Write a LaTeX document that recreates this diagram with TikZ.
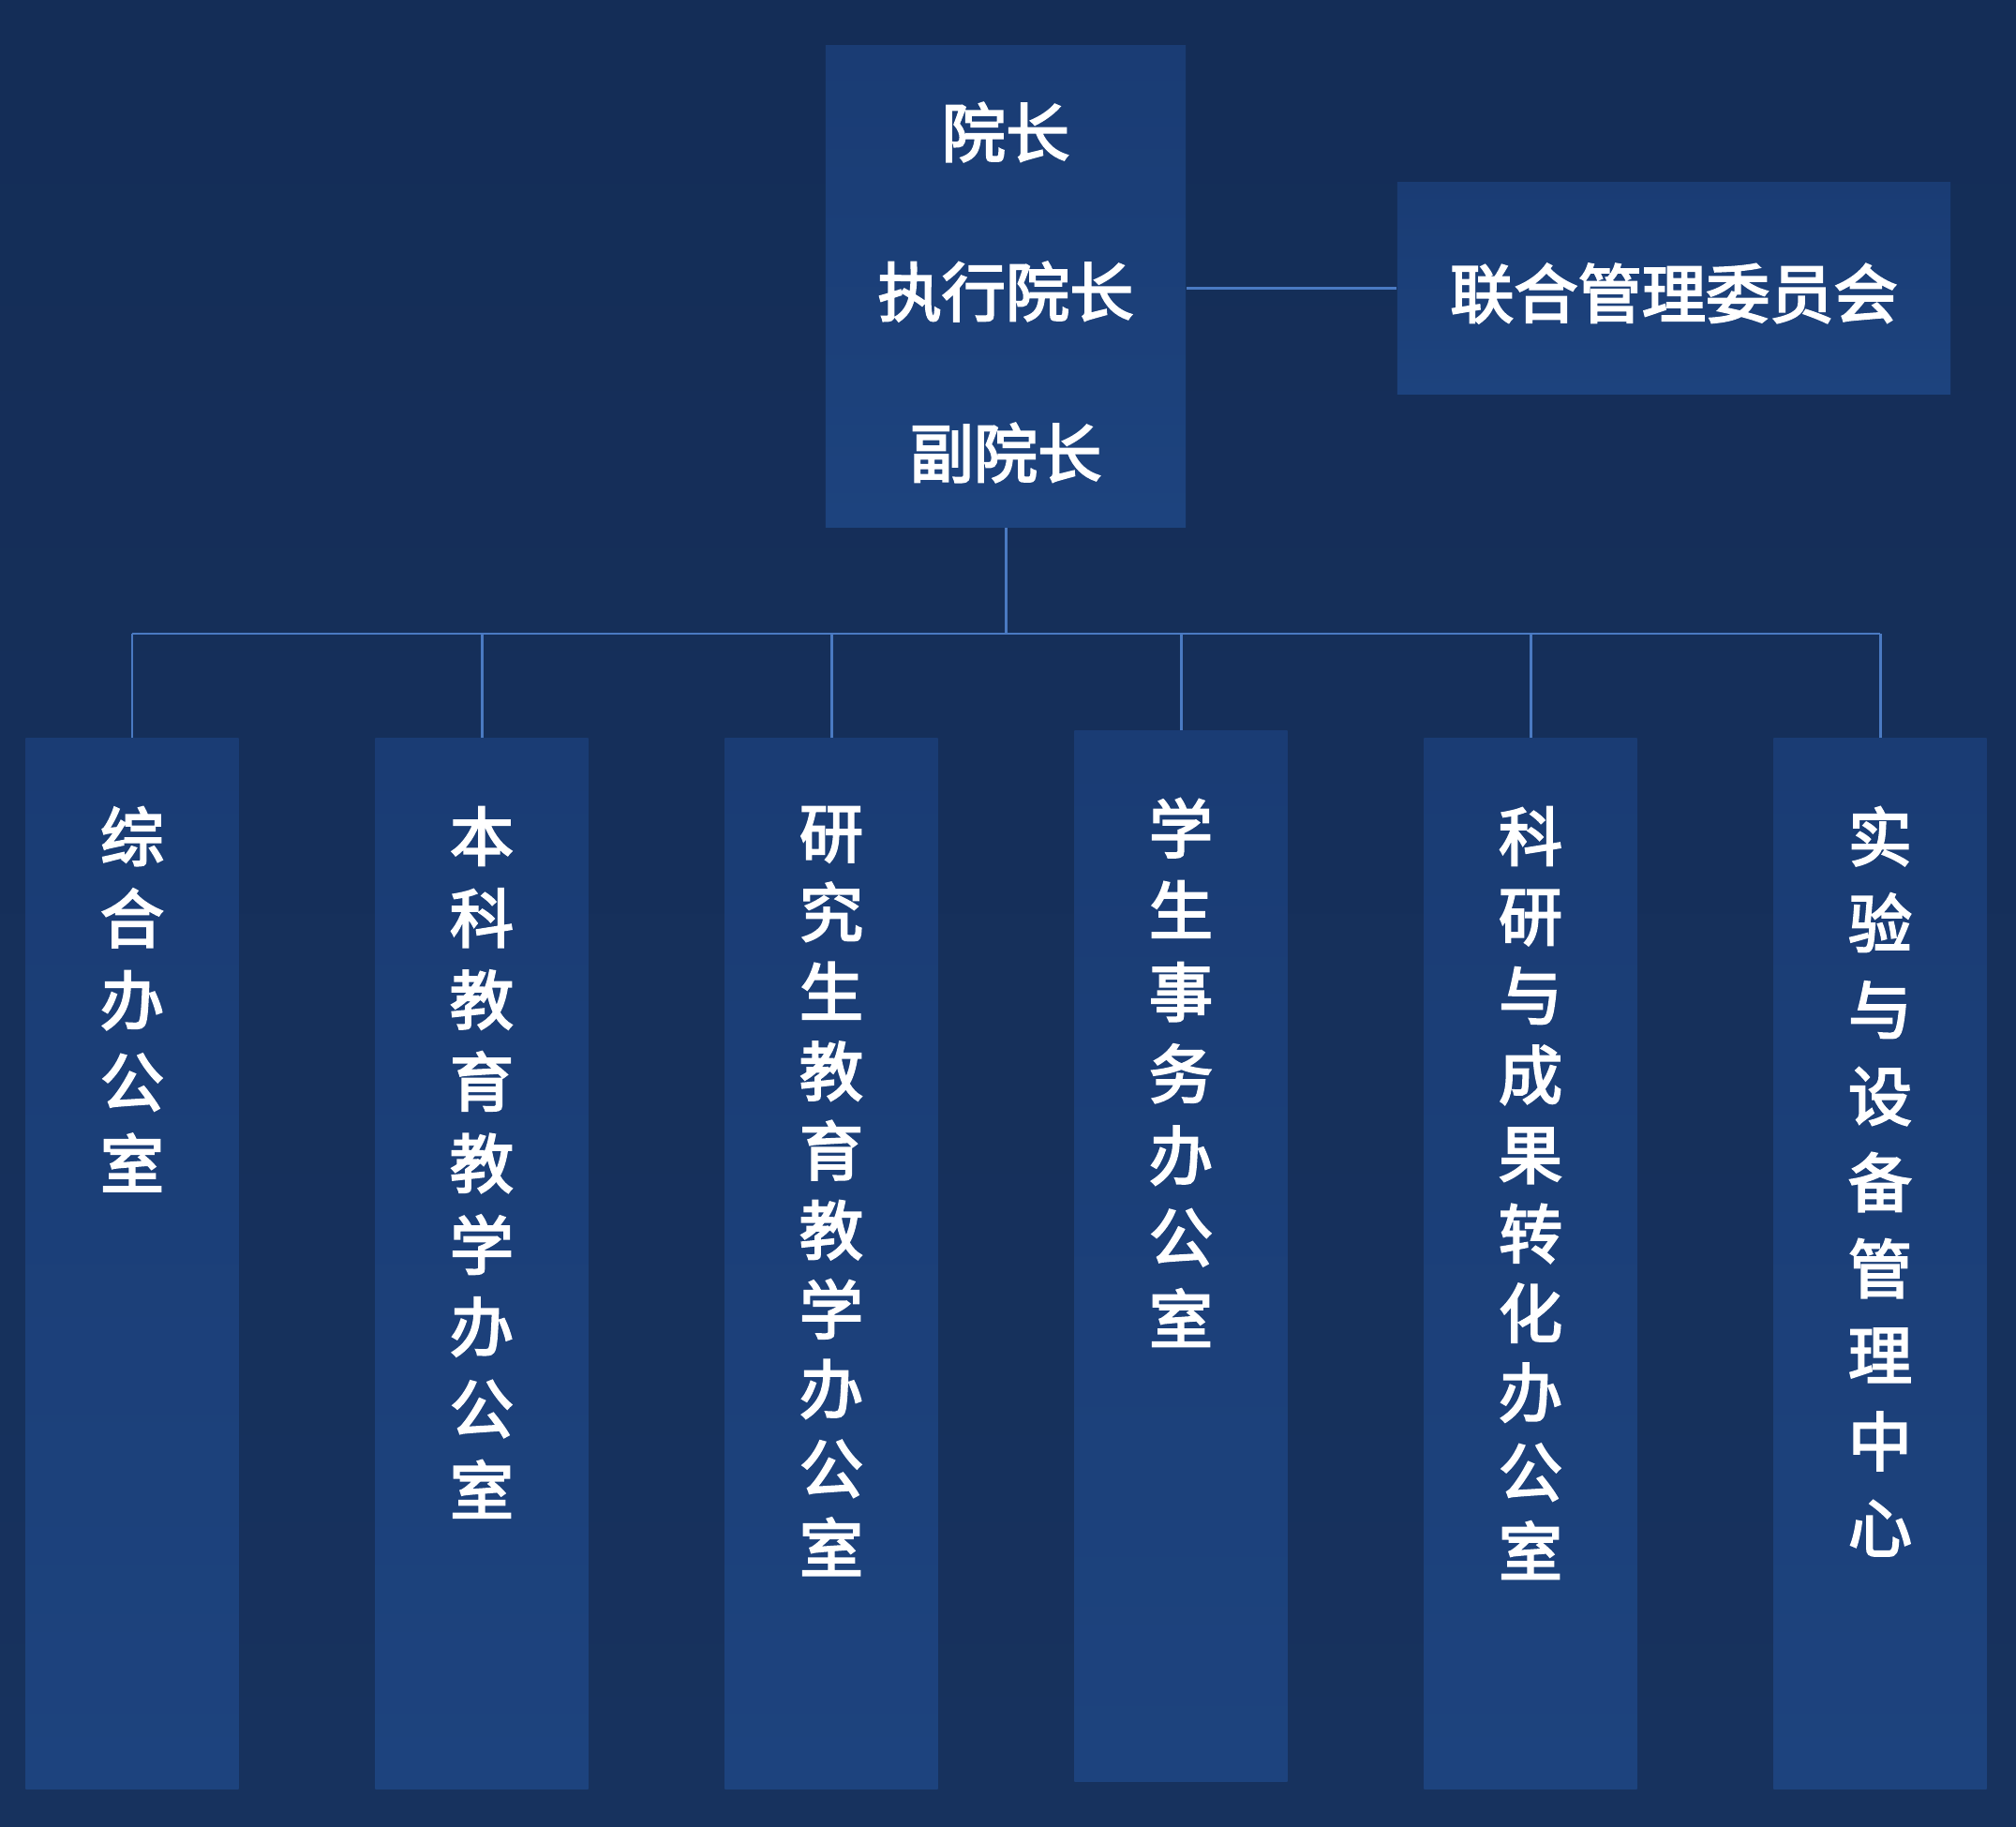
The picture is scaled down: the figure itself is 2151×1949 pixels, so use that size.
\documentclass[tikz,border=0pt]{standalone}
\usepackage{fontspec}
\newfontfamily\cjk{Noto Sans CJK SC}[FakeBold=3]
\definecolor{bgtop}{HTML}{142D57}
\definecolor{bgbot}{HTML}{17325E}
\definecolor{boxtop}{HTML}{1A3C74}
\definecolor{boxbot}{HTML}{1D437E}
\definecolor{linec}{HTML}{4A7AC2}
\begin{document}
\begin{tikzpicture}[x=0.01cm,y=-0.01cm,
  boxst/.style={draw=none, top color=boxtop, bottom color=boxbot, inner sep=0pt},
  colbox/.style={boxst, minimum width=2.27cm, minimum height=11.2cm, anchor=north},
  txt/.style={text=white, font=\cjk\fontsize{19.4}{24.8}\selectfont, inner sep=0pt},
  coltxt/.style={txt, align=center, anchor=north},
  conn/.style={draw=linec, line width=0.85pt}]
\shade[top color=bgtop, bottom color=bgbot] (0,0) rectangle (2151,1949);
\useasboundingbox (0,0) rectangle (2151,1949);
% top box
\node[boxst, minimum width=3.84cm, minimum height=5.13cm] (top) at (1073,305.5) {};
\node[txt] (t1) at (1073,141) {院长};
\node[txt] (t2) at (1073,311) {执行院长};
\node[txt] (t3) at (1073,483) {副院长};
% right box
\node[boxst, minimum width=5.9cm, minimum height=2.25cm] (jc) at (1786,307.5) {};
\node[txt] (jct) at (1786,313) {联合管理委员会};
% bottom boxes
\node[colbox] (b1) at (141,787) {};
\node[colbox] (b2) at (514,787) {};
\node[colbox] (b3) at (887,787) {};
\node[colbox] (b4) at (1260,779) {};
\node[colbox] (b5) at (1633,787) {};
\node[colbox] (b6) at (2006,787) {};
\node[coltxt] (c1) at (141,860) {综\\合\\办\\公\\室};
\node[coltxt] (c2) at (514,860) {本\\科\\教\\育\\教\\学\\办\\公\\室};
\node[coltxt, font=\cjk\fontsize{19.4}{24.1}\selectfont] (c3) at (887,860) {研\\究\\生\\教\\育\\教\\学\\办\\公\\室};
\node[coltxt] (c4) at (1260,851) {学\\生\\事\\务\\办\\公\\室};
\node[coltxt, font=\cjk\fontsize{19.4}{24.1}\selectfont] (c5) at (1633,860) {科\\研\\与\\成\\果\\转\\化\\办\\公\\室};
\node[coltxt, font=\cjk\fontsize{19.4}{26.2}\selectfont] (c6) at (2006,860) {实\\验\\与\\设\\备\\管\\理\\中\\心};
% connectors
\coordinate (bus) at (1073,676);
\draw[conn] (top.east |- jc.west) -- (jc.west);
\draw[conn] (top.south) -- (bus);
\draw[conn] (b1.north |- bus) -- (b6.north |- bus);
\foreach \i in {1,...,6}{\draw[conn] (b\i.north |- bus) -- (b\i.north);}
\end{tikzpicture}
\end{document}
